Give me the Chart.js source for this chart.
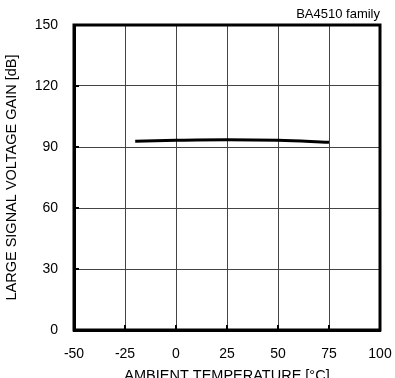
<!DOCTYPE html>
<html>
<head>
<meta charset="utf-8">
<script src="https://cdn.jsdelivr.net/npm/chart.js@4"></script>
<style>
  html, body { margin: 0; padding: 0; background: #fff; }
  canvas { display: block; }
</style>
</head>
<body>
<canvas id="gain" width="395" height="378"></canvas>
<script>
  // values
  var temps = [-20, 0, 25, 50, 75];
  var gain = [92.8, 93.3, 93.6, 93.3, 92.3];

  var xTicks = [-50, -25, 0, 25, 50, 75, 100];
  var yTicks = [0, 30, 60, 90, 120, 150];

  var points = temps.map(function (t, i) {
    return { x: t, y: gain[i] };
  });

  var fontFamily = "'Liberation Sans', Arial, sans-serif";

  // frame round the plot + small inward tick marks
  var framePlugin = {
    id: 'frame',
    afterDraw: function (chart) {
      var ctx = chart.ctx;
      var a = chart.chartArea;
      var xs = chart.scales.x, ys = chart.scales.y;
      ctx.save();
      ctx.strokeStyle = '#000';
      ctx.lineWidth = 2;
      xTicks.forEach(function (v) {
        var px = xs.getPixelForValue(v);
        ctx.beginPath();
        ctx.moveTo(px, a.bottom);
        ctx.lineTo(px, a.bottom - 5);
        ctx.stroke();
      });
      yTicks.forEach(function (v) {
        var py = ys.getPixelForValue(v);
        ctx.beginPath();
        ctx.moveTo(a.left, py);
        ctx.lineTo(a.left + 5, py);
        ctx.stroke();
      });
      ctx.lineWidth = 3;
      ctx.strokeRect(a.left, a.top, a.right - a.left, a.bottom - a.top);
      ctx.restore();
    }
  };

  var chart = new Chart(document.getElementById('gain').getContext('2d'), {
    type: 'line',
    data: {
      datasets: [{
        data: points,
        borderColor: '#000',
        borderWidth: 3,
        pointRadius: 0,
        tension: 0.4,
        fill: false
      }]
    },
    options: {
      responsive: false,
      devicePixelRatio: 1,
      animation: false,
      layout: { padding: { left: 0, right: 15, top: 0, bottom: 0 } },
      plugins: {
        legend: { display: false },
        tooltip: { enabled: false },
        title: {
          display: true,
          text: 'BA4510 family',
          align: 'end',
          color: '#000',
          font: { family: fontFamily, size: 13, weight: 'normal' },
          padding: { top: 7, bottom: 2.4 }
        }
      },
      scales: {
        x: {
          type: 'linear',
          min: -50,
          max: 100,
          afterBuildTicks: function (s) {
            s.ticks = xTicks.map(function (v) { return { value: v }; });
          },
          afterFit: function (s) {
            s.height = 48;
            s.paddingLeft = 0;
            s.paddingRight = 0;
          },
          grid: { color: '#444', lineWidth: 1, drawTicks: false },
          border: { display: true, color: '#000', width: 3 },
          ticks: {
            color: '#000',
            padding: 16,
            maxRotation: 0,
            font: { family: fontFamily, size: 14 }
          },
          title: {
            display: true,
            text: 'AMBIENT TEMPERATURE [\u00B0C]',
            color: '#000',
            font: { family: fontFamily, size: 14.5 },
            padding: { top: 0, bottom: -7 }
          }
        },
        y: {
          min: 0,
          max: 150,
          afterBuildTicks: function (s) {
            s.ticks = yTicks.map(function (v) { return { value: v }; });
          },
          afterFit: function (s) { s.width = 74; },
          grid: { color: '#444', lineWidth: 1, drawTicks: false },
          border: { display: true, color: '#000', width: 3 },
          ticks: {
            color: '#000',
            padding: 16,
            font: { family: fontFamily, size: 14 }
          },
          title: {
            display: true,
            text: 'LARGE SIGNAL VOLTAGE GAIN [dB]',
            color: '#000',
            font: { family: fontFamily, size: 14.5 },
            padding: { top: 3, bottom: 0 }
          }
        }
      }
    },
    plugins: [framePlugin]
  });
</script>
</body>
</html>
